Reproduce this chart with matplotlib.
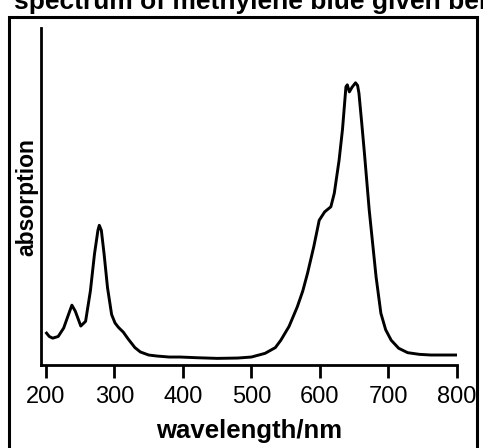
import numpy as np
import matplotlib.pyplot as plt
from matplotlib.patches import Rectangle

plt.rcParams['font.family'] = ['Liberation Sans', 'DejaVu Sans']

# absorption spectrum of methylene blue (arbitrary units)
wavelength = [201, 205, 210, 218, 226, 233, 238, 243, 251, 258, 265, 271, 276, 278,
              281, 285, 290, 296, 301, 306, 313, 320, 330, 338, 350, 362, 380, 396,
              420, 450, 480, 500, 520, 535, 543, 555, 567, 575, 582, 591, 599, 607,
              616, 621, 628, 633, 638, 640, 643, 647, 652, 655, 657, 661, 665, 672,
              682, 689, 696, 704, 715, 728, 745, 762, 780, 799]
absorption = [0.095, 0.085, 0.080, 0.085, 0.110, 0.150, 0.178, 0.160, 0.116, 0.130,
              0.220, 0.330, 0.400, 0.415, 0.400, 0.330, 0.230, 0.150, 0.125, 0.112,
              0.098, 0.078, 0.052, 0.039, 0.030, 0.027, 0.024, 0.024, 0.022, 0.020,
              0.021, 0.024, 0.035, 0.052, 0.074, 0.115, 0.173, 0.220, 0.273, 0.351,
              0.430, 0.455, 0.470, 0.510, 0.608, 0.700, 0.826, 0.832, 0.811, 0.825,
              0.838, 0.830, 0.807, 0.720, 0.629, 0.460, 0.262, 0.154, 0.105, 0.074,
              0.050, 0.037, 0.032, 0.030, 0.030, 0.030]

xticks = [200, 300, 400, 500, 600, 700, 800]

fig = plt.figure(figsize=(4.83, 4.48), dpi=100)
ax = fig.add_axes([0.085, 0.185, 0.861, 0.752])

ax.plot(wavelength, absorption, color='black', lw=2.1, solid_joinstyle='round')

ax.set_xlim(193, 800)
ax.set_ylim(0, 1)
ax.spines['top'].set_visible(False)
ax.spines['right'].set_visible(False)
ax.spines['left'].set_linewidth(2)
ax.spines['bottom'].set_linewidth(2)
ax.set_yticks([])
ax.set_xticks(xticks)
ax.tick_params(axis='x', direction='out', length=9, width=2, labelsize=17, pad=6)
ax.set_xlabel('wavelength/nm', fontsize=18.5, fontweight='bold', labelpad=8)
ax.set_ylabel('absorption', fontsize=16.5, fontweight='bold', labelpad=2)

# cut-off caption and the box around the picture
fig.text(0.03, 0.995, 'spectrum of methylene blue given below', fontsize=19,
         fontweight='bold', va='center', ha='left')
fig.patches.append(Rectangle((0.018, -0.05), 0.97, 1.012, transform=fig.transFigure,
                             fill=False, lw=2.2, edgecolor='black'))

fig.savefig('out.png', dpi=100)
